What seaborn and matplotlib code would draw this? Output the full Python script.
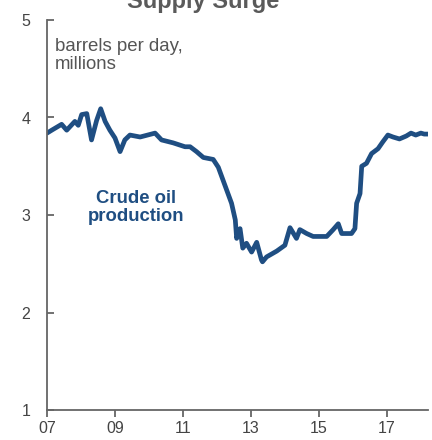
import matplotlib
matplotlib.use("Agg")
import matplotlib.pyplot as plt
import seaborn as sns
import pandas as pd

# Data (decimal year, million barrels per day)
years = [2007.00, 2007.14, 2007.43, 2007.58, 2007.82, 2007.92, 2008.02, 2008.17,
         2008.31, 2008.46, 2008.58, 2008.71, 2008.85, 2009.00, 2009.15, 2009.29,
         2009.44, 2009.74, 2010.18, 2010.37, 2010.71, 2011.06, 2011.21, 2011.40,
         2011.60, 2011.89, 2012.04, 2012.24, 2012.43, 2012.54, 2012.58, 2012.68,
         2012.76, 2012.87, 2013.02, 2013.17, 2013.31, 2013.34, 2013.46, 2013.76,
         2014.00, 2014.15, 2014.34, 2014.44, 2014.64, 2014.83, 2015.23, 2015.42,
         2015.57, 2015.67, 2015.96, 2016.06, 2016.11, 2016.21, 2016.26, 2016.40,
         2016.55, 2016.74, 2016.88, 2017.03, 2017.18, 2017.37, 2017.57, 2017.71,
         2017.85, 2018.00, 2018.10, 2018.21]
production = [3.84, 3.87, 3.93, 3.87, 3.96, 3.92, 4.03, 4.04,
              3.77, 3.97, 4.09, 3.96, 3.87, 3.79, 3.65, 3.77,
              3.82, 3.80, 3.84, 3.77, 3.74, 3.70, 3.70, 3.65,
              3.59, 3.57, 3.49, 3.30, 3.12, 2.95, 2.76, 2.86,
              2.66, 2.71, 2.62, 2.72, 2.54, 2.52, 2.57, 2.63,
              2.69, 2.87, 2.76, 2.85, 2.81, 2.78, 2.78, 2.85,
              2.91, 2.81, 2.81, 2.86, 3.12, 3.22, 3.50, 3.53,
              3.63, 3.68, 3.75, 3.82, 3.80, 3.78, 3.81, 3.84,
              3.82, 3.84, 3.83, 3.83]

y_ticks = [1, 2, 3, 4, 5]
x_ticks = [2007, 2009, 2011, 2013, 2015, 2017]
x_labels = ["07", "09", "11", "13", "15", "17"]

df = pd.DataFrame({"year": years, "production": production})

sns.set_theme(style="white")
plt.rcParams["font.family"] = ["Liberation Sans", "DejaVu Sans"]

fig = plt.figure(figsize=(4.32, 4.40), dpi=100)
ax = fig.add_axes([47 / 432, 30 / 440, 381 / 432, 390 / 440])

line_color = "#1f4e82"
gray = "#555555"

sns.lineplot(data=df, x="year", y="production", ax=ax, color=line_color,
             linewidth=3.4, solid_joinstyle="round", solid_capstyle="round")

ax.set_xlim(2007, 2018.21)
ax.set_ylim(1, 5)
ax.set_xticks(x_ticks)
ax.set_xticklabels(x_labels)
ax.set_yticks(y_ticks)
ax.set_xlabel("")
ax.set_ylabel("")

for side in ["top", "right"]:
    ax.spines[side].set_visible(False)
for side in ["left", "bottom"]:
    ax.spines[side].set_color("#666666")
    ax.spines[side].set_linewidth(1.3)

ax.tick_params(axis="y", direction="in", length=5, width=1.3, color="#666666",
               labelsize=11.5, labelcolor="#444444", pad=12, left=True)
ax.tick_params(axis="x", direction="out", length=5, width=1.3, color="#666666",
               labelsize=11.5, labelcolor="#444444", pad=3, bottom=True)

ax.text(2007.24, 4.82, "barrels per day,\nmillions", fontsize=13.4, color=gray,
        ha="left", va="top", linespacing=1.1)
ax.text(2009.62, 3.08, "Crude oil\nproduction", fontsize=13.3, color=line_color,
        fontweight="bold", ha="center", va="center", linespacing=1.1)

fig.text(203 / 432, 1 - 8 / 440, "Supply Surge", fontsize=17, fontweight="bold",
         color="#5a5a5a", ha="center", va="baseline")

fig.savefig("out.png", dpi=100)
